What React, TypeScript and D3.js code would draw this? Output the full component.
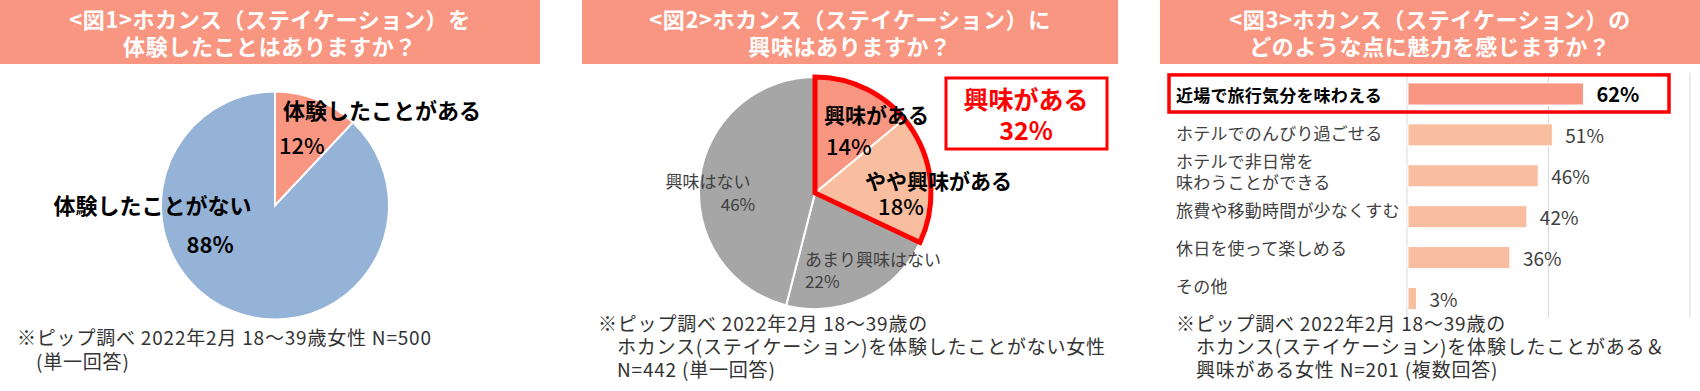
import * as d3 from "d3";

// ---- data ----
const fig1Labels = ["体験したことがある", "体験したことがない"];
const fig1Values = [12, 88];

const fig2Labels = ["興味がある", "やや興味がある", "あまり興味はない", "興味はない"];
const fig2Values = [14, 18, 22, 46];
const fig2HighlightLabel = "興味がある";

const fig3Categories = [
  "近場で旅行気分を味わえる",
  "ホテルでのんびり過ごせる",
  "ホテルで非日常を\n味わうことができる",
  "旅費や移動時間が少なくすむ",
  "休日を使って楽しめる",
  "その他",
];
const fig3Values = [62, 51, 46, 42, 36, 3];
const fig3Ticks = [0, 50, 100];

const titles = [
  ["<図1>ホカンス（ステイケーション）を", "体験したことはありますか？"],
  ["<図2>ホカンス（ステイケーション）に", "興味はありますか？"],
  ["<図3>ホカンス（ステイケーション）の", "どのような点に魅力を感じますか？"],
];
const notes = [
  ["※ピップ調べ 2022年2月 18～39歳女性 N=500", "(単一回答)"],
  ["※ピップ調べ 2022年2月 18～39歳の", "ホカンス(ステイケーション)を体験したことがない女性", "N=442 (単一回答)"],
  ["※ピップ調べ 2022年2月 18～39歳の", "ホカンス(ステイケーション)を体験したことがある＆", "興味がある女性 N=201 (複数回答)"],
];

// ---- styles ----
const FONT = "'Noto Sans CJK JP', 'Noto Sans', sans-serif";
const SALMON = "#F99682";
const PEACH = "#F8BE9F";
const GRAY = "#A6A6A6";
const BLUE = "#95B3D7";
const RED = "#FF0000";
const DARK = "#404040";

function Title({ x0, x1, lines }: { x0: number; x1: number; lines: string[] }) {
  const cx = (x0 + x1) / 2;
  return (
    <g>
      <rect x={x0} y={0} width={x1 - x0} height={64} fill={SALMON} />
      {lines.map((t, i) => (
        <text key={i} x={cx} y={17.5 + i * 27.5} textAnchor="middle" dominantBaseline="central"
          fontSize={22} fontWeight={700} fill="#fff" letterSpacing={0.6}>{t}</text>
      ))}
    </g>
  );
}

function Note({ x, indent, y, step, lines }: { x: number; indent: number; y: number; step: number; lines: string[] }) {
  return (
    <g>
      {lines.map((t, i) => (
        <text key={i} x={i === 0 ? x : x + indent} y={y + i * step} dominantBaseline="central"
          fontSize={19} fill="#333" letterSpacing={0.8}>{t}</text>
      ))}
    </g>
  );
}

const pie = d3.pie<number>().sort(null).value((d) => d);

function Fig1() {
  const cx = 275, cy = 205.5, r = 114;
  const arc = d3.arc<d3.PieArcDatum<number>>().innerRadius(0).outerRadius(r);
  const arcs = pie(fig1Values);
  const colors = [SALMON, BLUE];
  const pos = [
    { name: [8, -96.5], pct: [4, -62], anchor: "start" },
    { name: [-122.5, -1.5], pct: [-65, 37.5], anchor: "middle" },
  ];
  return (
    <g>
      <g transform={`translate(${cx},${cy})`}>
        {arcs.map((a, i) => (
          <path key={i} d={arc(a) || ""} fill={colors[i]} stroke="#fff" strokeWidth={2} />
        ))}
        {arcs.map((a, i) => (
          <g key={"l" + i} textAnchor={pos[i].anchor} fill="#000">
            <text x={pos[i].name[0]} y={pos[i].name[1]} dominantBaseline="central" fontSize={22} fontWeight={700}>
              {fig1Labels[i]}
            </text>
            <text x={pos[i].pct[0]} y={pos[i].pct[1]} dominantBaseline="central" fontSize={22}
              fontWeight={i === 0 ? 500 : 700}>
              {a.data}%
            </text>
          </g>
        ))}
      </g>
    </g>
  );
}

function Fig2() {
  const cx = 815, cy = 193, r = 116;
  const arc = d3.arc<d3.PieArcDatum<number>>().innerRadius(0).outerRadius(r);
  const arcs = pie(fig2Values);
  const colors = [SALMON, PEACH, GRAY, GRAY];
  const pos = [
    { name: [9, -79], pct: [11, -48.5], anchor: "start", big: true },
    { name: [123.5, -13], pct: [86, 11.5], anchor: "middle", big: true },
    { name: [-10, 65], pct: [-10, 87], anchor: "start", big: false },
    { name: [-107, -13], pct: [-77, 10.5], anchor: "middle", big: false },
  ];
  const highlight = fig2Values[0] + fig2Values[1];
  const redArc = d3.arc()({
    innerRadius: 0,
    outerRadius: r,
    startAngle: 0,
    endAngle: arcs[1].endAngle,
  } as any);
  return (
    <g>
      <g transform={`translate(${cx},${cy})`}>
        {arcs.map((a, i) => (
          <path key={i} d={arc(a) || ""} fill={colors[i]} stroke="#fff" strokeWidth={2} />
        ))}
        <path d={redArc || ""} fill="none" stroke={RED} strokeWidth={5} strokeLinejoin="miter" />
        {arcs.map((a, i) => (
          <g key={"l" + i} textAnchor={pos[i].anchor} fill={pos[i].big ? "#000" : DARK}>
            <text x={pos[i].name[0]} y={pos[i].name[1]} dominantBaseline="central"
              fontSize={pos[i].big ? 21 : 17} fontWeight={pos[i].big ? 700 : 400}>
              {fig2Labels[i]}
            </text>
            <text x={pos[i].pct[0]} y={pos[i].pct[1]} dominantBaseline="central"
              fontSize={pos[i].big ? 22 : 17} fontWeight={pos[i].big ? 500 : 400}>
              {a.data}%
            </text>
          </g>
        ))}
      </g>
      <rect x={946} y={78} width={161} height={71} fill="#fff" stroke={RED} strokeWidth={3} />
      <g textAnchor="middle" fill={RED} fontWeight={700} fontSize={25}>
        <text x={1026} y={97.5} dominantBaseline="central">{fig2HighlightLabel}</text>
        <text x={1026} y={128.5} dominantBaseline="central">{highlight}%</text>
      </g>
    </g>
  );
}

function Fig3() {
  const x = d3.scaleLinear().domain([0, 100]).range([1407, 1690]);
  const y = d3.scaleBand<string>().domain(fig3Categories).range([73.5, 319]).paddingInner(0.46).paddingOuter(0.23);
  const yLabel = d3.scalePoint<string>().domain(fig3Categories).range([94, 285]);
  const labelX = 1176;
  const first = fig3Categories[0];
  return (
    <g>
      {fig3Ticks.map((t) => (
        <line key={t} x1={x(t)} x2={x(t)} y1={73} y2={318} stroke="#D9D9D9" strokeWidth={1} />
      ))}
      {fig3Categories.map((c, i) => (
        <rect key={c} x={x(0) + 1} y={y(c)} width={x(fig3Values[i]) - x(0)} height={y.bandwidth()}
          fill={i === 0 ? SALMON : PEACH} stroke="#fff" strokeWidth={1} />
      ))}
      {fig3Categories.map((c, i) => (
        <text key={"v" + c} x={x(fig3Values[i]) + 14} y={(y(c) || 0) + y.bandwidth() / 2}
          dominantBaseline="central" fontSize={i === 0 ? 20 : 19} fontWeight={i === 0 ? 700 : 400}
          fill={i === 0 ? "#000" : DARK}>
          {fig3Values[i]}%
        </text>
      ))}
      {fig3Categories.map((c, i) => {
        const parts = c.split("\n");
        const cy = yLabel(c) || 0;
        return (
          <text key={"c" + c} x={labelX} y={cy - ((parts.length - 1) * 20.5) / 2} dominantBaseline="central"
            fontSize={17} fontWeight={i === 0 ? 700 : 400} fill={i === 0 ? "#000" : DARK} letterSpacing={0.2}>
            {parts.map((p, j) => (
              <tspan key={j} x={labelX} dy={j === 0 ? 0 : 20.5}>{p}</tspan>
            ))}
          </text>
        );
      })}
      <rect x={1169} y={(y(first) || 0) - 8} width={500} height={y.bandwidth() + 15}
        fill="none" stroke={RED} strokeWidth={3.5} />
    </g>
  );
}

export default function App() {
  return (
    <svg width={1700} height={391} style={{ position: "absolute", left: 0, top: 0, background: "#fff" }}
      fontFamily={FONT}>
      <rect width={1700} height={391} fill="#fff" />
      <Title x0={0} x1={540} lines={titles[0]} />
      <Title x0={582} x1={1118} lines={titles[1]} />
      <Title x0={1160} x1={1700} lines={titles[2]} />
      <Fig1 />
      <Fig2 />
      <Fig3 />
      <Note x={17} indent={19} y={336} step={24} lines={notes[0]} />
      <Note x={598} indent={19} y={322.5} step={23.2} lines={notes[1]} />
      <Note x={1176} indent={20} y={322.5} step={23.2} lines={notes[2]} />
    </svg>
  );
}
